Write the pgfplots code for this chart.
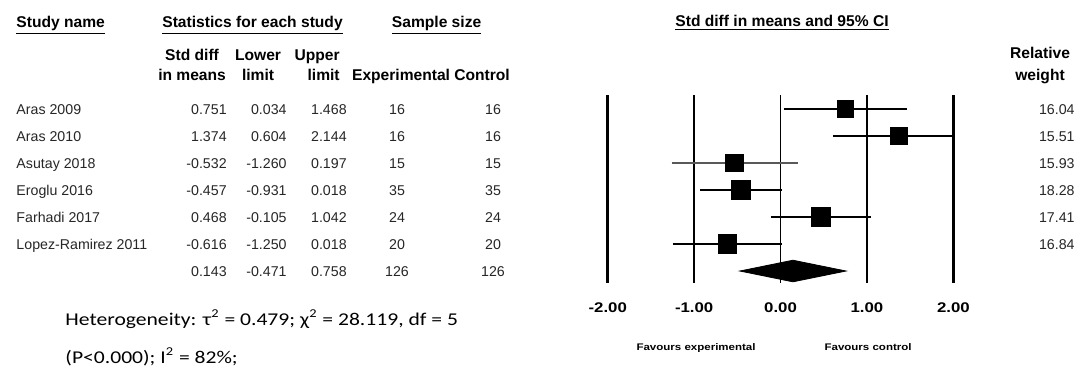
\documentclass[border=0pt]{standalone}
\usepackage{fontspec}
\setmainfont{Liberation Sans}
\newfontfamily\hetfont[FakeStretch=1.2]{Carlito}
\newfontfamily\hdfont[FakeStretch=1.2]{Liberation Sans}
\usepackage{pgfplots}
\pgfplotsset{compat=1.18}
\newcommand\bodyf{\color{black!85}\fontsize{7.1}{8}\selectfont}
\newcommand\hdf{\bfseries\fontsize{7.8}{9}\selectfont}
\newcommand\row[7]{%
  \node[anchor=mid east, font=\bodyf] at (axis cs:-6.406,#1) {#2};
  \node[anchor=mid east, font=\bodyf] at (axis cs:-5.712,#1) {#3};
  \node[anchor=mid east, font=\bodyf] at (axis cs:-5.017,#1) {#4};
  \node[anchor=mid, font=\bodyf] at (axis cs:-4.439,#1) {#5};
  \node[anchor=mid, font=\bodyf] at (axis cs:-3.328,#1) {#6};
  \node[anchor=mid east, font=\bodyf] at (axis cs:3.408,#1) {#7};
}
\begin{document}
\begin{tikzpicture}[every node/.append style={inner sep=0pt}]
\path[use as bounding box] (0,0) rectangle (540pt,188pt);
\begin{axis}[
  at={(0pt,46.5pt)}, anchor=south west,
  scale only axis, width=540pt, height=94pt,
  xmin=-9.034, xmax=3.466, ymin=0.4815, ymax=7.444,
  y dir=reverse, clip=false,
  axis line style={draw=none}, major tick length=0pt,
  ytick=\empty,
  xtick={-2,-1,0,1,2},
  xticklabels={-2.00,-1.00,0.00,1.00,2.00},
  xticklabel style={anchor=center, yshift=-12.5pt, font=\hdfont\bfseries\fontsize{7}{8}\selectfont},
]
% reference lines
\addplot[black, line width=1.3pt] coordinates {(-2,0.4815) (-2,7.444)};
\addplot[black, line width=1.3pt] coordinates {(-1,0.4815) (-1,7.444)};
\addplot[black, line width=0.7pt] coordinates {(0,0.4815) (0,7.444)};
\addplot[black, line width=1.3pt] coordinates {(1,0.4815) (1,7.444)};
\addplot[black, line width=1.3pt] coordinates {(2,0.4815) (2,7.444)};
% confidence intervals
\addplot[black, line width=1.05pt] coordinates {(0.034,1) (1.468,1)};
\addplot[black, line width=1.05pt] coordinates {(0.604,2) (2.000,2)};
\addplot[black!65, line width=0.6pt] coordinates {(-1.260,3) (0.197,3)};
\addplot[black, line width=1.05pt] coordinates {(-0.931,4) (0.018,4)};
\addplot[black, line width=1.05pt] coordinates {(-0.105,5) (1.042,5)};
\addplot[black, line width=1.05pt] coordinates {(-1.250,6) (0.018,6)};
% point estimates
\addplot[only marks, mark=square*, mark size=4.2pt, black] coordinates {(0.751,1)};
\addplot[only marks, mark=square*, mark size=4.2pt, black] coordinates {(1.374,2)};
\addplot[only marks, mark=square*, mark size=4.4pt, black] coordinates {(-0.532,3)};
\addplot[only marks, mark=square*, mark size=4.9pt, black] coordinates {(-0.457,4)};
\addplot[only marks, mark=square*, mark size=4.7pt, black] coordinates {(0.468,5)};
\addplot[only marks, mark=square*, mark size=4.6pt, black] coordinates {(-0.616,6)};
% summary diamond
\addplot[fill=black, draw=black] coordinates {(-0.471,7) (0.143,6.6) (0.758,7) (0.143,7.4)} -- cycle;

% headers
\node[anchor=mid west, font=\hdf] at (axis cs:-8.848,-2.222) {\underline{Study name}};
\node[anchor=mid, font=\hdf] at (axis cs:-6.111,-2.222) {\underline{Statistics for each study}};
\node[anchor=mid, font=\hdf] at (axis cs:-3.981,-2.222) {\underline{Sample size}};
\node[anchor=mid, font=\hdf] at (axis cs:0.017,-2.26) {\underline{Std diff in means and 95\% CI}};
\node[anchor=mid, font=\hdf] at (axis cs:-6.811,-1.0) {Std diff};
\node[anchor=mid, font=\hdf] at (axis cs:-6.811,-0.259) {in means};
\node[anchor=mid, font=\hdf] at (axis cs:-6.047,-1.0) {Lower};
\node[anchor=mid, font=\hdf] at (axis cs:-6.047,-0.259) {limit};
\node[anchor=mid east, font=\hdf] at (axis cs:-5.098,-1.0) {Upper};
\node[anchor=mid east, font=\hdf] at (axis cs:-5.098,-0.259) {limit};
\node[anchor=mid, font=\hdf] at (axis cs:-4.392,-0.259) {Experimental};
\node[anchor=mid, font=\hdf] at (axis cs:-3.455,-0.259) {Control};
\node[anchor=mid, font=\hdf] at (axis cs:3.003,-1.074) {Relative};
\node[anchor=mid, font=\hdf] at (axis cs:3.003,-0.259) {weight};

% study rows
\node[anchor=mid west, font=\bodyf] at (axis cs:-8.848,1) {Aras 2009};
\node[anchor=mid west, font=\bodyf] at (axis cs:-8.848,2) {Aras 2010};
\node[anchor=mid west, font=\bodyf] at (axis cs:-8.848,3) {Asutay 2018};
\node[anchor=mid west, font=\bodyf] at (axis cs:-8.848,4) {Eroglu 2016};
\node[anchor=mid west, font=\bodyf] at (axis cs:-8.848,5) {Farhadi 2017};
\node[anchor=mid west, font=\bodyf] at (axis cs:-8.848,6) {Lopez-Ramirez 2011};
\row{1}{0.751}{0.034}{1.468}{16}{16}{16.04}
\row{2}{1.374}{0.604}{2.144}{16}{16}{15.51}
\row{3}{-0.532}{-1.260}{0.197}{15}{15}{15.93}
\row{4}{-0.457}{-0.931}{0.018}{35}{35}{18.28}
\row{5}{0.468}{-0.105}{1.042}{24}{24}{17.41}
\row{6}{-0.616}{-1.250}{0.018}{20}{20}{16.84}
\node[anchor=mid east, font=\bodyf] at (axis cs:-6.406,7) {0.143};
\node[anchor=mid east, font=\bodyf] at (axis cs:-5.712,7) {-0.471};
\node[anchor=mid east, font=\bodyf] at (axis cs:-5.017,7) {0.758};
\node[anchor=mid, font=\bodyf] at (axis cs:-4.439,7) {126};
\node[anchor=mid, font=\bodyf] at (axis cs:-3.328,7) {126};

% favours
\node[anchor=mid, font=\hdfont\bfseries\fontsize{4.8}{6}\selectfont] at (axis cs:-0.978,9.74) {Favours experimental};
\node[anchor=mid, font=\hdfont\bfseries\fontsize{4.8}{6}\selectfont] at (axis cs:1.013,9.74) {Favours control};

% heterogeneity
\node[anchor=mid west, font=\hetfont\fontsize{9}{10}\selectfont] at (axis cs:-8.281,8.815) {Heterogeneity: τ\textsuperscript{2} = 0.479; χ\textsuperscript{2} = 28.119, df = 5};
\node[anchor=mid west, font=\hetfont\fontsize{9}{10}\selectfont] at (axis cs:-8.281,10.222) {(P<0.000); I\textsuperscript{2} = 82\%;};
\end{axis}
\end{tikzpicture}
\end{document}
